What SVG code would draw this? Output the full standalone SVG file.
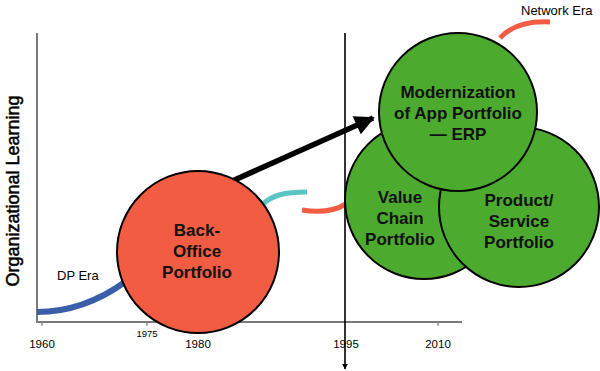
<svg xmlns="http://www.w3.org/2000/svg" width="600" height="371" viewBox="0 0 600 371">
<defs>
<style>
.lbl{font-family:"Liberation Sans",Arial,sans-serif;fill:#000}
.node{font-family:"Liberation Sans",Arial,sans-serif;font-weight:bold;font-size:17px;text-anchor:middle;fill:#111}
.yr{font-family:"Liberation Sans",Arial,sans-serif;font-size:11.5px;text-anchor:middle;fill:#000}
.circ{stroke:#000;stroke-width:2}
.axis{stroke:#7a7a7a;stroke-width:2;fill:none}
</style>
<marker id="ah" viewBox="0 0 10 10" refX="9" refY="5" markerWidth="4" markerHeight="3.6" orient="auto" markerUnits="strokeWidth">
<path d="M0,0 L10,5 L0,10 z" fill="#000"/>
</marker>
<marker id="ah2" viewBox="0 0 10 10" refX="9" refY="5" markerWidth="6" markerHeight="6" orient="auto" markerUnits="userSpaceOnUse">
<path d="M0,0 L10,5 L0,10 z" fill="#000"/>
</marker>
</defs>
<rect width="600" height="371" fill="#fff"/>
<g id="axes">
<path class="axis" d="M37,33 V322 H462"/>
<path d="M42,322 v4 M147,322 v4 M438,322 v4" stroke="#7a7a7a" stroke-width="1.2"/>
<text class="yr" x="42" y="348">1960</text>
<text class="yr" x="147" y="337" style="font-size:9.5px">1975</text>
<text class="yr" x="198" y="348">1980</text>
<text class="yr" x="346" y="348">1995</text>
<text class="yr" x="438" y="348">2010</text>
<text class="lbl" x="19" y="191" font-size="18" text-anchor="middle" stroke="#000" stroke-width="0.5" transform="rotate(-90 19 191)">Organizational Learning</text>
</g>
<g id="connectors" fill="none">
<path d="M37,312 C70,312 100,300 125,282" stroke="#3a5ea8" stroke-width="6"/>
<path d="M262,205 C272,195 285,192 307,192" stroke="#5bc4c4" stroke-width="5"/>
<path d="M302,210 C315,212 333,212 346,204" stroke="#f25c43" stroke-width="5"/>
<path d="M500,38 C512,25 530,21 550,22" stroke="#f25c43" stroke-width="5"/>
<path d="M230,182 L373,118" stroke="#000" stroke-width="5.5" marker-end="url(#ah)"/>
<path d="M345,33 V369" stroke="#000" stroke-width="1.6" marker-end="url(#ah2)"/>
</g>
<text class="lbl" x="57" y="280" font-size="13">DP Era</text>
<text class="lbl" x="521" y="15" font-size="13">Network Era</text>
<g id="back-office">
<circle class="circ" cx="198" cy="252" r="81" fill="#f25c43"/>
<text class="node" x="197" y="236">Back-</text>
<text class="node" x="197" y="257">Office</text>
<text class="node" x="197" y="278">Portfolio</text>
</g>
<g id="value-chain">
<circle class="circ" cx="424" cy="200" r="79" fill="#4caa2f"/>
<text class="node" x="400" y="203">Value</text>
<text class="node" x="400" y="224">Chain</text>
<text class="node" x="400" y="245">Portfolio</text>
</g>
<g id="product-service">
<circle class="circ" cx="519" cy="207" r="80" fill="#4caa2f"/>
<text class="node" x="519" y="206">Product/</text>
<text class="node" x="519" y="227">Service</text>
<text class="node" x="519" y="248">Portfolio</text>
</g>
<g id="modernization">
<circle class="circ" cx="458" cy="112" r="79" fill="#4caa2f"/>
<text class="node" x="458" y="98">Modernization</text>
<text class="node" x="458" y="119">of App Portfolio</text>
<text class="node" x="458" y="140">— ERP</text>
</g>
</svg>
